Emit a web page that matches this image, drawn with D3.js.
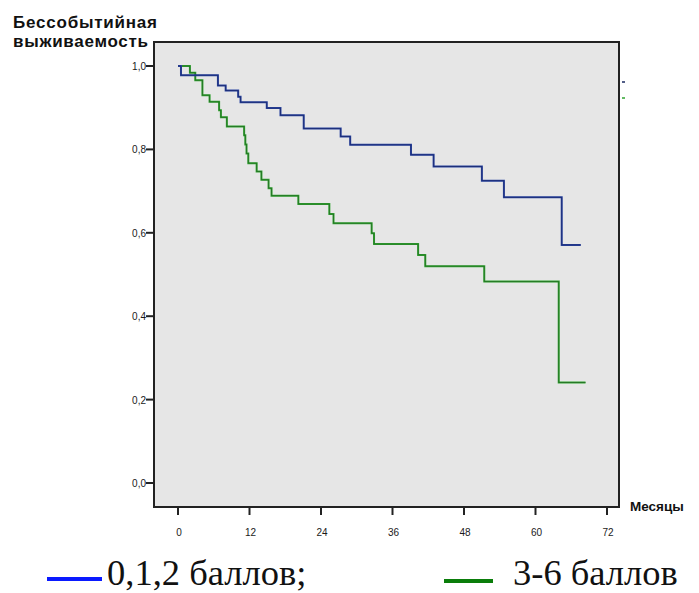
<!DOCTYPE html>
<html>
<head>
<meta charset="utf-8">
<script src="https://cdn.jsdelivr.net/npm/d3@7/dist/d3.min.js"></script>
<style>
  body { margin: 0; background: #fff; }
  svg { display: block; }
  .tick-label { font-family: "Liberation Sans", Arial, sans-serif; font-size: 10px; fill: #1a1a1a; }
  .axis-title { font-family: "Liberation Sans", Arial, sans-serif; font-weight: bold; fill: #111; }
  .legend-text { font-family: "Liberation Serif", "Times New Roman", serif; font-size: 36.5px; fill: #111; }
</style>
</head>
<body>
<div id="km-chart"><svg width="699" height="593"></svg></div>
<script>
// months and survival values
var blueTimes = [0, 0.5, 6.7, 8.0, 10.1, 10.5, 14.9, 17.2, 21.1, 27.3, 28.9, 39.1, 42.9, 51.0, 54.7, 64.4];
var blueSurv  = [1.0, 0.978, 0.953, 0.941, 0.926, 0.913, 0.899, 0.882, 0.850, 0.831, 0.811, 0.787, 0.759, 0.725, 0.685, 0.571];
var blueEnd = 67.6;

var greenTimes = [0, 2.0, 2.9, 4.1, 5.3, 6.9, 7.2, 8.2, 11.1, 11.3, 11.5, 11.8, 13.2, 14.0, 15.2, 15.7, 20.2, 25.4, 26.1, 32.5, 32.9, 40.3, 41.5, 51.4, 63.9];
var greenSurv  = [1.0, 0.984, 0.966, 0.930, 0.914, 0.894, 0.877, 0.855, 0.834, 0.812, 0.790, 0.767, 0.747, 0.727, 0.707, 0.689, 0.669, 0.645, 0.623, 0.599, 0.573, 0.547, 0.520, 0.483, 0.241];
var greenEnd = 68.4;

var xTicks = [0, 12, 24, 36, 48, 60, 72];
var yTicks = [0, 0.2, 0.4, 0.6, 0.8, 1.0];

var legendLabels = ['0,1,2 баллов;', '3-6 баллов'];
var legendColors = ['#0a1aff', '#0a7d0a'];

function toPoints(times, surv, end) {
  var pts = times.map(function(t, i) { return [t, surv[i]]; });
  pts.push([end, surv[surv.length - 1]]);
  return pts;
}

function drawChart() {
  var svg = d3.select('#km-chart svg');

  var frame = { left: 154, top: 42, right: 619, bottom: 507 };

  var x = d3.scaleLinear().domain([0, 72]).range([178, 607]);
  var y = d3.scaleLinear().domain([0, 1]).range([483, 66]);

  // grey plot area
  svg.append('rect')
    .attr('x', frame.left)
    .attr('y', frame.top)
    .attr('width', frame.right - frame.left)
    .attr('height', frame.bottom - frame.top)
    .attr('fill', '#e6e6e6')
  ;

  var line = d3.line()
    .x(function(d) { return x(d[0]); })
    .y(function(d) { return y(d[1]); })
    .curve(d3.curveStepAfter)
  ;

  var curves = [
    { pts: toPoints(blueTimes, blueSurv, blueEnd), color: '#2a44a0', dark: '#101a50' },
    { pts: toPoints(greenTimes, greenSurv, greenEnd), color: '#2fa32f', dark: '#1d4a1d' }
  ];

  var g = svg.append('g').attr('class', 'curves');
  // green first so blue sits on top at the start
  curves.slice().reverse().forEach(function(c) {
    g.append('path')
      .attr('d', line(c.pts))
      .attr('fill', 'none')
      .attr('stroke', c.color)
      .attr('stroke-width', 2)
    ;
    g.append('path')
      .attr('d', line(c.pts))
      .attr('fill', 'none')
      .attr('stroke', c.dark)
      .attr('stroke-width', 0.8)
      .attr('stroke-opacity', 0.6)
    ;
  });

  // frame
  svg.append('rect')
    .attr('x', frame.left)
    .attr('y', frame.top)
    .attr('width', frame.right - frame.left)
    .attr('height', frame.bottom - frame.top)
    .attr('fill', 'none')
    .attr('stroke', '#222')
    .attr('stroke-width', 2)
  ;

  // y axis ticks and labels
  var yg = svg.append('g');
  yg.selectAll('line')
    .data(yTicks)
    .enter()
    .append('line')
    .attr('x1', frame.left - 8)
    .attr('x2', frame.left)
    .attr('y1', function(d) { return y(d); })
    .attr('y2', function(d) { return y(d); })
    .attr('stroke', '#222')
    .attr('stroke-width', 2)
  ;
  yg.selectAll('text')
    .data(yTicks)
    .enter()
    .append('text')
    .attr('class', 'tick-label')
    .attr('x', frame.left - 8)
    .attr('y', function(d) { return y(d) + 4; })
    .attr('text-anchor', 'end')
    .text(function(d) { return d3.format('.1f')(d).replace('.', ','); })
  ;

  // x axis ticks and labels
  var xg = svg.append('g');
  xg.selectAll('line')
    .data(xTicks)
    .enter()
    .append('line')
    .attr('x1', function(d) { return x(d); })
    .attr('x2', function(d) { return x(d); })
    .attr('y1', frame.bottom)
    .attr('y2', frame.bottom + 8)
    .attr('stroke', '#222')
    .attr('stroke-width', 2)
  ;
  xg.selectAll('text')
    .data(xTicks)
    .enter()
    .append('text')
    .attr('class', 'tick-label')
    .attr('x', function(d) { return x(d) + 1; })
    .attr('y', 536)
    .attr('text-anchor', 'middle')
    .text(function(d) { return d; })
  ;

  // axis titles
  svg.append('text')
    .attr('class', 'axis-title')
    .attr('x', 13)
    .attr('y', 28)
    .attr('font-size', 17)
    .attr('textLength', 144)
    .text('Бессобытийная')
  ;
  svg.append('text')
    .attr('class', 'axis-title')
    .attr('x', 13)
    .attr('y', 47)
    .attr('font-size', 17)
    .attr('textLength', 135)
    .text('выживаемость')
  ;
  svg.append('text')
    .attr('class', 'axis-title')
    .attr('x', 630)
    .attr('y', 511)
    .attr('font-size', 13.5)
    .text('Месяцы')
  ;

  // small legend remnants right of the frame
  svg.append('line')
    .attr('x1', 622).attr('x2', 625).attr('y1', 82).attr('y2', 82)
    .attr('stroke', '#1a2a60').attr('stroke-width', 1.5)
  ;
  svg.append('line')
    .attr('x1', 622).attr('x2', 625).attr('y1', 98).attr('y2', 98)
    .attr('stroke', '#2fa32f').attr('stroke-width', 1.5)
  ;

  // legend
  var legendPos = [
    { x1: 47, x2: 102, ty: 585, tx: 107, ly: 579 },
    { x1: 444, x2: 493, ty: 585, tx: 513, ly: 581 }
  ];
  var lg = svg.append('g').attr('class', 'legend');
  legendLabels.forEach(function(label, i) {
    var p = legendPos[i];
    lg.append('line')
      .attr('x1', p.x1)
      .attr('x2', p.x2)
      .attr('y1', p.ly)
      .attr('y2', p.ly)
      .attr('stroke', legendColors[i])
      .attr('stroke-width', 4)
    ;
    lg.append('text')
      .attr('class', 'legend-text')
      .attr('x', p.tx)
      .attr('y', p.ty)
      .text(label)
    ;
  });
}

drawChart();
</script>
</body>
</html>
